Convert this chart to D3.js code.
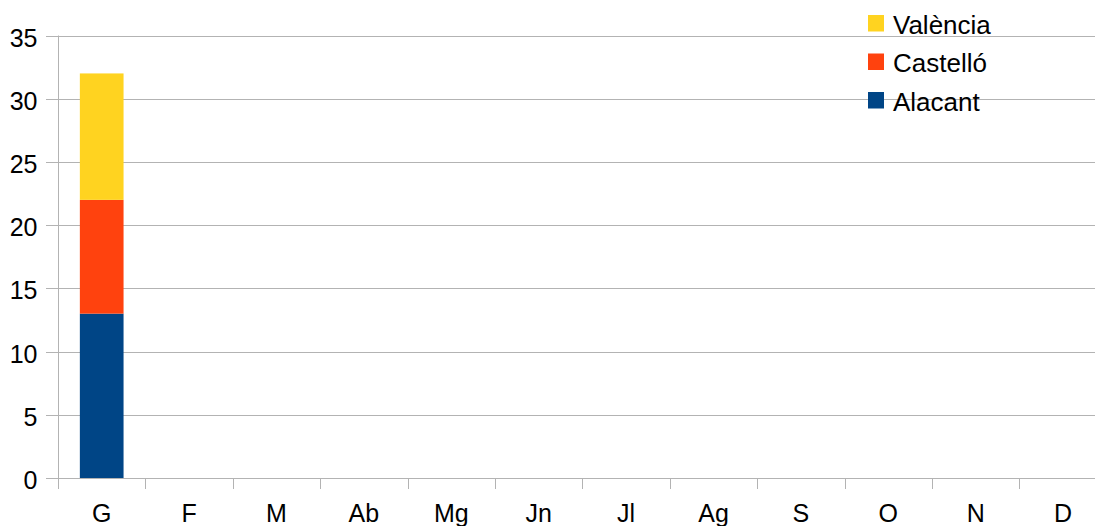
<!DOCTYPE html>
<html><head><meta charset="utf-8">
<script src="https://cdn.jsdelivr.net/npm/d3@7"></script>
<style>html,body{margin:0;padding:0;background:#fff;overflow:hidden}svg{display:block;font-family:"Liberation Sans",Arial,sans-serif}</style>
</head><body>
<svg id="c" width="1095" height="526"></svg>
<script>
const categories = ["G","F","M","Ab","Mg","Jn","Jl","Ag","S","O","N","D"];
const alacant  = [13,0,0,0,0,0,0,0,0,0,0,0];
const castello = [9,0,0,0,0,0,0,0,0,0,0,0];
const valencia = [10,0,0,0,0,0,0,0,0,0,0,0];
const yTicks = [0,5,10,15,20,25,30,35];
const seriesNames = ["Alacant","Castelló","València"];
const seriesColors = ["#004586","#ff420e","#ffd320"];

const svg = d3.select("#c");
const plotLeft = 58, plotTop = 35.5, plotBottom = 478, band = 87.4;
const x = d3.scaleBand().domain(categories).range([plotLeft, plotLeft + band*categories.length]).padding(0);
const y = d3.scaleLinear().domain([0,35]).range([plotBottom, plotTop]);
const grid = "#b3b3b3";

// gridlines
svg.append("g").selectAll("line").data(yTicks).join("line")
  .attr("x1", plotLeft-12).attr("x2", 1095)
  .attr("y1", d=>Math.round(y(d))+0.5).attr("y2", d=>Math.round(y(d))+0.5)
  .attr("stroke", grid).attr("stroke-width",1);
// y labels
svg.append("g").selectAll("text").data(yTicks).join("text")
  .attr("x", 37.5).attr("y", d=>y(d)+11).attr("text-anchor","end")
  .attr("font-size", 25).attr("fill","#000").text(d=>d);
// y axis line
svg.append("line").attr("x1",plotLeft+0.5).attr("x2",plotLeft+0.5).attr("y1",plotTop).attr("y2",plotBottom+11).attr("stroke",grid);
// category ticks
svg.append("g").selectAll("line").data(categories.slice(1)).join("line")
  .attr("x1", d=>Math.round(x(d))+0.5).attr("x2", d=>Math.round(x(d))+0.5)
  .attr("y1", plotBottom).attr("y2", plotBottom+11).attr("stroke", grid);
// x labels
svg.append("g").selectAll("text").data(categories).join("text")
  .attr("x", d=>x(d)+x.bandwidth()/2).attr("y", 522).attr("text-anchor","middle")
  .attr("font-size", 25).attr("fill","#000").text(d=>d);

// stacked bars
const rows = categories.map((c,i)=>({cat:c, Alacant:alacant[i], "Castelló":castello[i], "València":valencia[i]}));
const stack = d3.stack().keys(seriesNames)(rows);
const bw = x.bandwidth()*0.5;
svg.append("g").selectAll("g").data(stack).join("g")
  .attr("fill",(d,i)=>seriesColors[i])
  .selectAll("rect").data(d=>d.filter(s=>s[1]-s[0]>0)).join("rect")
  .attr("x", d=>x(d.data.cat)+(x.bandwidth()-bw)/2)
  .attr("width", bw)
  .attr("y", d=>y(d[1])).attr("height", d=>y(d[0])-y(d[1]));

// legend
const legOrder = [2,1,0];
const lg = svg.append("g").selectAll("g").data(legOrder).join("g")
  .attr("transform",(d,i)=>`translate(868,${15+i*38.5})`);
lg.append("rect").attr("width",16).attr("height",16.5).attr("fill",d=>seriesColors[d]);
lg.append("text").attr("x",25).attr("y",18.5).attr("font-size",26).attr("fill","#000").text(d=>seriesNames[d]);
</script>
</body></html>
